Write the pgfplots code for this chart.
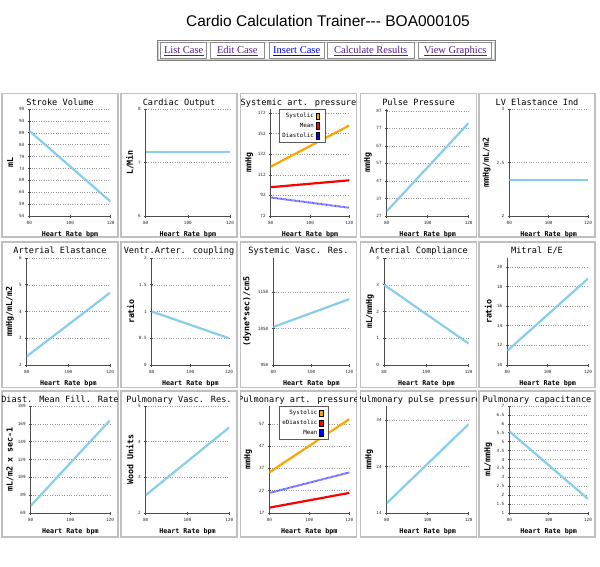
\documentclass[border=0pt]{standalone}
\usepackage{fontspec}
\setmainfont{Liberation Sans}
\newfontfamily\mono{DejaVu Sans Mono}
\newfontfamily\serif{Liberation Serif}
\usepackage{pgfplots}
\pgfplotsset{compat=1.18}

\definecolor{skyline}{RGB}{135,206,235}
\definecolor{sysor}{RGB}{255,165,0}
\definecolor{diablue}{RGB}{90,90,255}
\definecolor{visited}{RGB}{85,26,139}
\definecolor{linkblue}{RGB}{0,0,238}
\definecolor{boxgray}{RGB}{192,192,192}

\newcommand\ttl{\mono\fontsize{8.6}{10}\selectfont}
\newcommand\ylf{\mono\bfseries\fontsize{8.3}{10}\selectfont}
\newcommand\xlf{\mono\bfseries\fontsize{6.7}{8}\selectfont}
\newcommand\tkf{\mono\fontsize{4.3}{5}\selectfont}
\newcommand\lgf{\mono\fontsize{5.8}{7}\selectfont}

% panel title, clipped to its box: left, top, text
\newcommand\ptitle[3]{%
  \begin{scope}
    \clip ({#1*1pt},{-#2*1pt}) rectangle ({(#1+116)*1pt},{-(#2+30)*1pt});
    \node[anchor=base, inner sep=0pt, font=\ttl] at ({(#1+58)*1pt},{-(#2+11.6)*1pt}) {#3};
  \end{scope}}

% underlined link in a button cell: centre x, colour, text
\newcommand\link[3]{%
  \node[anchor=base, inner sep=0pt, text=#2, font=\serif\fontsize{10.5}{12}\selectfont] (lk) at ({#1*1pt},-54pt) {#3};
  \draw[#2, line width=0.6pt] ([yshift=-1.7pt]lk.base west) -- ([yshift=-1.7pt]lk.base east);}

\pgfplotsset{
  every axis y label/.style={rotate=90, anchor=center, font=\ylf},
  cardio/.style={
    scale only axis, height=107pt, anchor=south west,
    axis x line*=bottom, axis y line*=left,
    axis line style={black!70, line width=0.7pt},
    xmin=80, xmax=120, xtick={80,100,120},
    tick align=center, major tick length=3pt,
    tick style={black!70, line width=0.6pt},
    tick label style={font=\tkf, black!85},
    /pgf/number format/assume math mode=true,
    /pgf/number format/1000 sep={},
    scaled y ticks=false,
    ymajorgrids, major grid style={dotted, black!40, line width=0.5pt},
    xlabel={Heart Rate bpm},
    xlabel style={at={(axis description cs:0.5,0)}, yshift=-20pt, anchor=base, font=\xlf},
    no markers,
  },
  % axis left, axis width, axis bottom, distance of the y label from the axis
  panel/.style n args={4}{
    at={(#1pt,-#3pt)}, width=#2pt,
    ylabel style={at={([xshift=-#4pt]axis description cs:0,0.5)}},
  },
  sv/.style={skyline, line width=2.2pt},
  lgd/.style={legend cell align=right, legend plot pos=right,
    legend style={at={(#1,1)}, anchor=north west, draw=black!65, line width=0.6pt,
      fill=white, font=\lgf, row sep=0pt, inner sep=1.8pt,
      nodes={inner ysep=2pt, inner xsep=1.4pt}}},
  sw/.style={legend image code/.code={%
    \path[draw=none, fill=none] (0pt,-1pt) rectangle (8pt,1pt);
    \path[draw=black, line width=0.4pt, fill=#1, solid] (0.8pt,-3.3pt) rectangle (4.2pt,3.3pt);}},
}

\begin{document}
\begin{tikzpicture}
\useasboundingbox (0pt,0pt) rectangle (600pt,-567pt);
\fill[white] (0pt,0pt) rectangle (600pt,-567pt);

% page header
\node[anchor=base, inner sep=0pt, font=\fontsize{15.5}{18}\selectfont] at (328pt,-26.5pt) {Cardio Calculation Trainer-\kern0pt-\kern0pt- BOA000105};
\draw[black!50, line width=0.9pt] (157pt,-40.5pt) rectangle (495.5pt,-60.5pt);
\draw[black!20, line width=0.5pt] (158.3pt,-41.8pt) rectangle (494.2pt,-59.2pt);
\foreach \a/\b in {160.7/206.7, 210.7/264, 269.3/324, 327.3/414, 418.7/491.7}
  \draw[black!45, line width=0.6pt] ({\a*1pt},-42.7pt) rectangle ({\b*1pt},-58.3pt);
\link{183.7}{visited}{List Case}
\link{237.3}{visited}{Edit Case}
\link{296.7}{linkblue}{Insert Case}
\link{370.7}{visited}{Calculate Results}
\link{455.2}{visited}{View Graphics}

% panel frames
\foreach \l in {2,121,240.5,360.5,479}
  \foreach \t/\b in {93.5/237, 242/387.5, 391/537}
    \draw[boxgray, line width=1.2pt] ({\l*1pt},{-\t*1pt}) rectangle ({(\l+116)*1pt},{-\b*1pt});

\ptitle{2}{93.5}{Stroke Volume}
\ptitle{121}{93.5}{Cardiac Output}
\ptitle{240.5}{93.5}{Systemic art. pressure}
\ptitle{360.5}{93.5}{Pulse Pressure}
\ptitle{479}{93.5}{LV Elastance Ind}
\ptitle{2}{242}{Arterial Elastance}
\ptitle{121}{242}{Ventr.Arter. coupling}
\ptitle{240.5}{242}{Systemic Vasc. Res.}
\ptitle{360.5}{242}{Arterial Compliance}
\ptitle{479}{242}{Mitral E/E}
\ptitle{2}{391}{Diast. Mean Fill. Rate}
\ptitle{121}{391}{Pulmonary Vasc. Res.}
\ptitle{240.5}{391}{Pulmonary art. pressure}
\ptitle{360.5}{391}{Pulmonary pulse pressure}
\ptitle{479}{391}{Pulmonary capacitance}

% ---- row 1
\begin{axis}[cardio, panel={29.3}{81.4}{216}{19.3},
  ymin=54, ymax=99, ytick={54,59,...,99}, ylabel={mL}]
\addplot[sv] coordinates {(80,89.8) (120,60)};
\end{axis}

\begin{axis}[cardio, panel={145.7}{84.3}{216}{15.7},
  ymin=6, ymax=8, ytick={6,7,8}, ylabel={L/Min}]
\addplot[sv] coordinates {(80,7.2) (120,7.2)};
\end{axis}

\begin{axis}[cardio, panel={270.7}{78.6}{216}{21.4},
  ymin=72, ymax=176, ytick={72,92,...,172}, ylabel={mmHg}, lgd=0.105]
\addplot[sysor, line width=2.2pt, sw=sysor] coordinates {(80,120) (120,160)};
\addlegendentry{Systolic}
\addplot[red, line width=2.2pt, sw=red] coordinates {(80,100) (120,106.7)};
\addlegendentry{Mean}
\addplot[diablue, line width=2pt, dash pattern=on 0.8pt off 0.5pt, sw=blue] coordinates {(80,90) (120,80)};
\addlegendentry{Diastolic}
\end{axis}

\begin{axis}[cardio, panel={386.7}{82}{216}{18.7},
  ymin=27, ymax=88, ytick={27,37,...,87}, ylabel={mmHg}]
\addplot[sv] coordinates {(80,29.7) (120,80)};
\end{axis}

\begin{axis}[cardio, panel={509.3}{78.7}{216}{22.6},
  ymin=2, ymax=3, ytick={2,2.5,3}, ylabel={mmHg/mL/m2}]
\addplot[sv] coordinates {(80,2.335) (120,2.335)};
\end{axis}

% ---- row 2
\begin{axis}[cardio, panel={26.7}{83.3}{365}{16.7},
  ymin=2, ymax=6, ytick={2,3,4,5,6}, ylabel={mmHg/mL/m2}]
\addplot[sv] coordinates {(80,2.32) (120,4.70)};
\end{axis}

\begin{axis}[cardio, panel={151.7}{77.3}{365}{21},
  ymin=0, ymax=2, ytick={0,0.5,1,1.5,2}, ylabel={ratio}]
\addplot[sv] coordinates {(80,1.0) (120,0.5)};
\end{axis}

\begin{axis}[cardio, panel={273.3}{76}{365}{26.3},
  ymin=950, ymax=1244, ytick={950,1050,1150}, ylabel={(dyne*sec)/cm5}]
\addplot[sv] coordinates {(80,1054.5) (120,1131)};
\end{axis}

\begin{axis}[cardio, panel={384}{84.7}{365}{14},
  ymin=0, ymax=4, ytick={0,1,2,3,4}, ylabel={mL/mmHg}]
\addplot[sv] coordinates {(80,3.0) (120,0.8)};
\end{axis}

\begin{axis}[cardio, panel={507.3}{80.7}{365}{19},
  ymin=10, ymax=20.9, ytick={10,12,...,20}, ylabel={ratio}]
\addplot[sv] coordinates {(80,11.45) (120,18.8)};
\end{axis}

% ---- row 3
\begin{axis}[cardio, panel={30.7}{79.3}{513}{20.7},
  ymin=69, ymax=189, ytick={69,89,...,189}, ylabel={mL/m2 x sec-1}]
\addplot[sv] coordinates {(80,77) (120,173)};
\end{axis}

\begin{axis}[cardio, panel={145.7}{83.6}{513}{15.7},
  ymin=2, ymax=5, ytick={2,3,4,5}, ylabel={Wood Units}]
\addplot[sv] coordinates {(80,2.5) (120,4.4)};
\end{axis}

\begin{axis}[cardio, panel={269.3}{80}{513}{21},
  ymin=17, ymax=65, ytick={17,27,...,57}, ylabel={mmHg}, lgd=0.12]
\addplot[sysor, line width=2.2pt, sw=sysor] coordinates {(80,35.2) (120,59.1)};
\addlegendentry{Systolic}
\addplot[red, line width=2.2pt, sw=red] coordinates {(80,19.4) (120,26)};
\addlegendentry{eDiastolic}
\addplot[diablue, line width=2pt, dash pattern=on 0.8pt off 0.5pt, sw=blue] coordinates {(80,26) (120,35.2)};
\addlegendentry{Mean}
\end{axis}

\begin{axis}[cardio, panel={386.7}{82}{513}{17.4},
  ymin=14, ymax=37, ytick={14,24,34}, ylabel={mmHg}]
\addplot[sv] coordinates {(80,16.1) (120,33.1)};
\end{axis}

\begin{axis}[cardio, panel={509.3}{78.7}{513}{21},
  ymin=1, ymax=7, ytick={1,1.5,...,7}, ylabel={mL/mmHg}]
\addplot[sv] coordinates {(80,5.58) (120,1.79)};
\end{axis}

\end{tikzpicture}
\end{document}
